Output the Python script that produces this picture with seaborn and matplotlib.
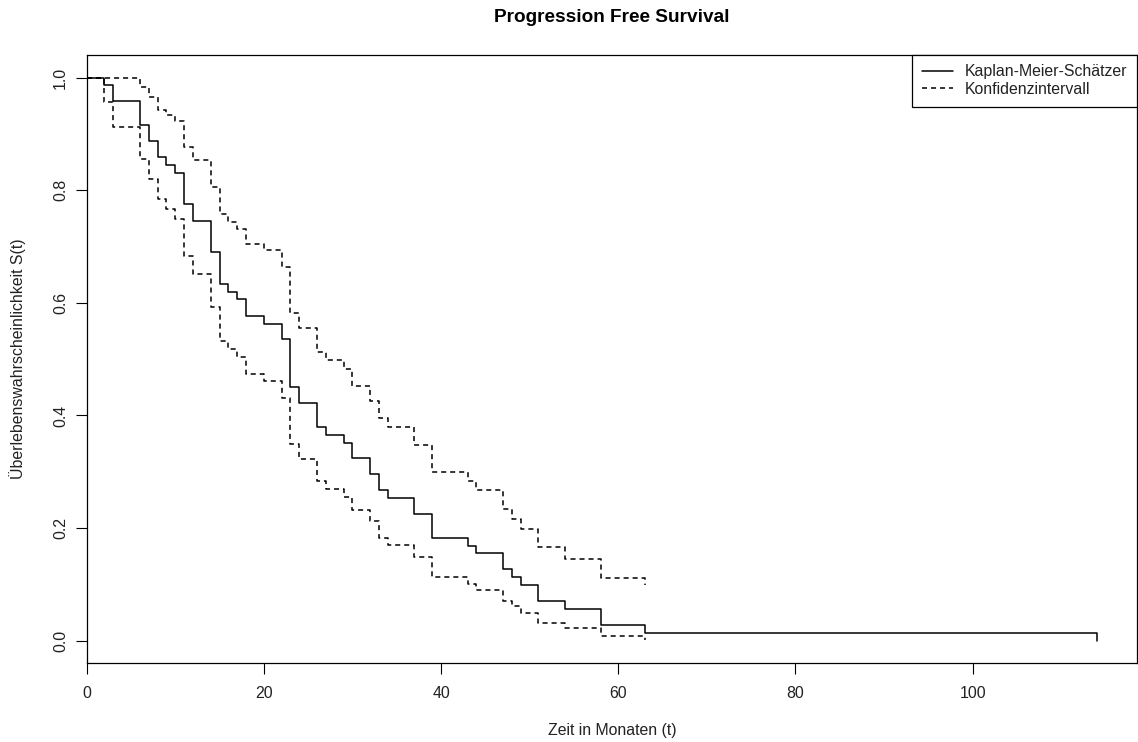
import numpy as np
import pandas as pd
import matplotlib
matplotlib.use("Agg")
import matplotlib.pyplot as plt
import seaborn as sns
from matplotlib.lines import Line2D

# ---- data ----
km_time = [0, 2, 3, 6, 7, 8, 9, 10, 11, 12, 14, 15, 16, 17, 18, 20, 22, 23, 24, 26,
           27, 29, 30, 32, 33, 34, 37, 39, 43, 44, 47, 48, 49, 51, 54, 58, 63, 114]
km_surv = [1.0, 0.986, 0.958, 0.916, 0.887, 0.859, 0.845, 0.831, 0.775, 0.746, 0.690,
           0.634, 0.620, 0.606, 0.577, 0.563, 0.535, 0.451, 0.423, 0.380, 0.366, 0.352,
           0.324, 0.296, 0.268, 0.254, 0.225, 0.183, 0.169, 0.155, 0.127, 0.113, 0.099,
           0.070, 0.056, 0.028, 0.014, 0.0]

ci_time = [0, 2, 3, 6, 7, 8, 9, 10, 11, 12, 14, 15, 16, 17, 18, 20, 22, 23, 24, 26,
           27, 29, 30, 32, 33, 34, 37, 39, 43, 44, 47, 48, 49, 51, 54, 58, 63]
ci_upper = [1.0, 1.0, 1.0, 0.984, 0.965, 0.943, 0.934, 0.923, 0.877, 0.854, 0.806,
            0.758, 0.743, 0.731, 0.705, 0.693, 0.664, 0.582, 0.555, 0.512, 0.499, 0.483,
            0.453, 0.426, 0.395, 0.380, 0.347, 0.300, 0.284, 0.268, 0.234, 0.217, 0.199,
            0.166, 0.146, 0.111, 0.099]
ci_lower = [1.0, 0.957, 0.912, 0.855, 0.819, 0.784, 0.766, 0.749, 0.684, 0.651, 0.592,
            0.532, 0.518, 0.503, 0.474, 0.461, 0.431, 0.349, 0.323, 0.284, 0.270, 0.255,
            0.232, 0.213, 0.182, 0.170, 0.148, 0.114, 0.101, 0.091, 0.070, 0.061, 0.050,
            0.032, 0.023, 0.008, 0.002]

x_ticks = [0, 20, 40, 60, 80, 100]
y_ticks = [0.0, 0.2, 0.4, 0.6, 0.8, 1.0]
y_tick_labels = ["0.0", "0.2", "0.4", "0.6", "0.8", "1.0"]

title = "Progression Free Survival"
x_label = "Zeit in Monaten (t)"
y_label = "Überlebenswahrscheinlichkeit S(t)"
legend_labels = ["Kaplan-Meier-Schätzer", "Konfidenzintervall"]

# ---- plotting ----
sns.set_style("white")
plt.rcParams['font.family'] = ['Liberation Sans', 'DejaVu Sans']

W, H = 1138, 742
fig = plt.figure(figsize=(W / 100, H / 100), dpi=100)
left, right, top, bottom = 86.7, 1137.0, 55.0, 663.3
ax = fig.add_axes([left / W, 1 - bottom / H, (right - left) / W, (bottom - top) / H])

lw = 1.1
dash = (0, (3.3, 2.6))
fs = 11.4
txt_color = "#222222"

km_df = pd.DataFrame({"t": km_time, "S": km_surv})
ci_df = pd.DataFrame({"t": ci_time, "upper": ci_upper, "lower": ci_lower})

sns.lineplot(data=km_df, x="t", y="S", ax=ax, drawstyle="steps-post", color="black",
             linewidth=lw, estimator=None, sort=False)
sns.lineplot(data=ci_df, x="t", y="upper", ax=ax, drawstyle="steps-post", color="black",
             linewidth=lw, linestyle=dash, estimator=None, sort=False)
sns.lineplot(data=ci_df, x="t", y="lower", ax=ax, drawstyle="steps-post", color="black",
             linewidth=lw, linestyle=dash, estimator=None, sort=False)

ax.set_xlim(0, 114 * 1.04)
ax.set_ylim(-0.04, 1.04)
ax.set_xlabel("")
ax.set_ylabel("")
ax.grid(False)

ax.set_xticks(x_ticks)
ax.set_xticklabels([str(v) for v in x_ticks])
ax.set_yticks(y_ticks)
ax.set_yticklabels(y_tick_labels, rotation=90, va="center")

ax.tick_params(axis="both", direction="out", length=7.9, width=0.8, color="black",
               labelsize=fs, labelcolor=txt_color, left=True, bottom=True)
ax.tick_params(axis="x", pad=8.6)
ax.tick_params(axis="y", pad=5.5)

for sp in ax.spines.values():
    sp.set_visible(True)
    sp.set_color("black")
    sp.set_linewidth(0.9)

fig.text((left + right) / 2 / W, 1 - 18 / H, title, ha="center", va="center",
         fontsize=13.7, fontweight="bold", color="black")
fig.text((left + right) / 2 / W, 1 - 730 / H, x_label, ha="center", va="center",
         fontsize=fs, color=txt_color)
fig.text(18 / W, 1 - (top + bottom) / 2 / H, y_label, ha="center", va="center",
         rotation=90, fontsize=fs, color=txt_color)

handles = [Line2D([0], [0], color="black", lw=lw),
           Line2D([0], [0], color="black", lw=lw, linestyle=dash)]
leg = ax.legend(handles, legend_labels, loc="upper right", borderaxespad=0,
                fancybox=False, framealpha=1, edgecolor="black", fontsize=fs,
                handlelength=1.96, handletextpad=0.76, borderpad=0.6, labelspacing=0.16)
leg.get_frame().set_linewidth(0.9)
for t in leg.get_texts():
    t.set_color(txt_color)

fig.savefig("out.png", dpi=100, facecolor="white")
